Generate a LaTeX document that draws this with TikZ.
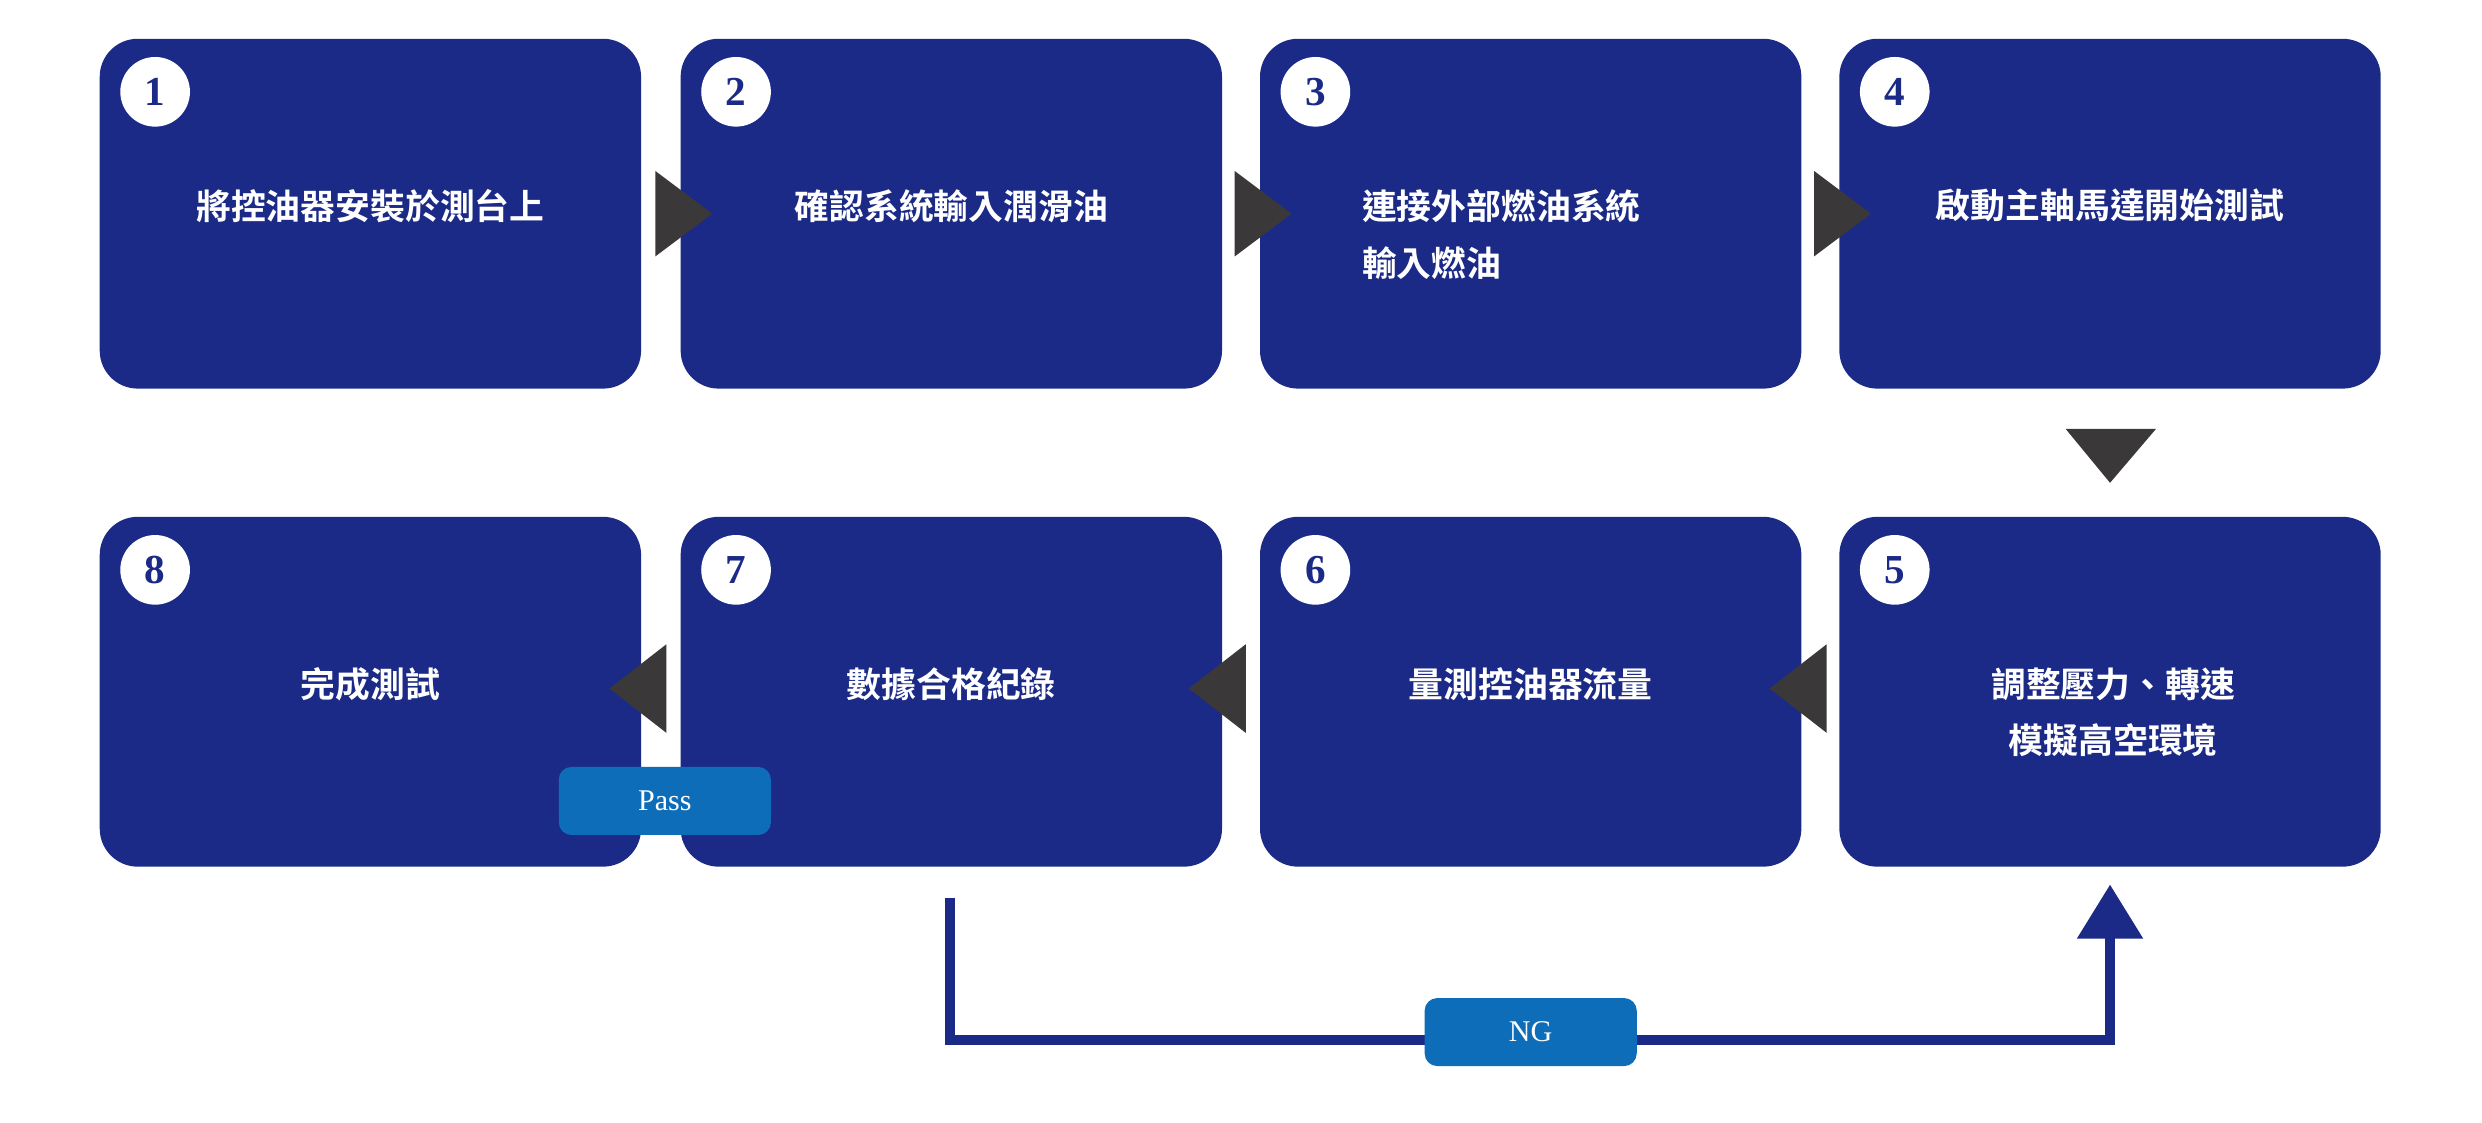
\documentclass[tikz,border=0pt]{standalone}
\usepackage{fontspec}
\newfontfamily\cjk{Noto Sans CJK TC}[BoldFont={* Bold}]
\setmainfont{Liberation Serif}
\definecolor{navy}{HTML}{1B2A87}
\definecolor{lblue}{HTML}{0E6DB8}
\definecolor{tri}{HTML}{3A3838}
\begin{document}
\begin{tikzpicture}[x=1pt,y=-1pt,
 box/.style={fill=navy,rounded corners=24pt,minimum width=342pt,minimum height=221pt,inner sep=0},
 num/.style={circle,fill=white,minimum size=44pt,inner sep=0,text=navy,font=\fontsize{26}{26}\selectfont\bfseries},
 lbl/.style={text=white,font=\cjk\bfseries\fontsize{22}{36}\selectfont,align=center},
 tag/.style={fill=lblue,rounded corners=8pt,minimum width=134pt,minimum height=43pt,text=white,font=\fontsize{19}{19}\selectfont,inner sep=0},
 tri/.style={fill=tri}]
\path[use as bounding box,fill=white] (0,0) rectangle (1568,709);
\foreach \n/\x/\y in {1/234/135,2/601/135,3/967/135,4/1333/135,8/234/437,7/601/437,6/967/437,5/1333/437}{
 \node[box] (b\n) at (\x,\y) {};
 \node[num] (n\n) at (\x-136,\y-77) {\n};
}
\node[lbl] (t1) at (234,130) {將控油器安裝於測台上};
\node[lbl] (t2) at (601,130) {確認系統輸入潤滑油};
\node[lbl,align=left,anchor=west] (t3) at (857,148) {連接外部燃油系統\\輸入燃油};
\node[lbl] (t4) at (1333,130) {啟動主軸馬達開始測試};
\node[lbl] (t5) at (1335,450) {調整壓力、轉速\\模擬高空環境};
\node[lbl] (t6) at (967,432) {量測控油器流量};
\node[lbl] (t7) at (601,432) {數據合格紀錄};
\node[lbl] (t8) at (234,432) {完成測試};
\foreach \x in {414,780,1146}{\fill[tri] (\x,108) -- (\x+36,135) -- (\x,162) -- cycle;}
\fill[tri] (1305,271) -- (1362,271) -- (1333,305) -- cycle;
\foreach \x in {421,787,1154}{\fill[tri] (\x,407) -- (\x-36,435) -- (\x,463) -- cycle;}
\coordinate (s) at (600,567);
\coordinate (c1) at (600,657);
\coordinate (c2) at (1333,657);
\coordinate (e) at (1333,592);
\draw[navy,line width=6pt] (s) -- (c1) -- (c2) -- (e);
\fill[navy] (1312,593) -- (1354,593) -- (1333,559) -- cycle;
\node[tag] (ng) at (967,652) {NG};
\node[tag] (pass) at (420,506) {Pass};
\end{tikzpicture}
\end{document}
